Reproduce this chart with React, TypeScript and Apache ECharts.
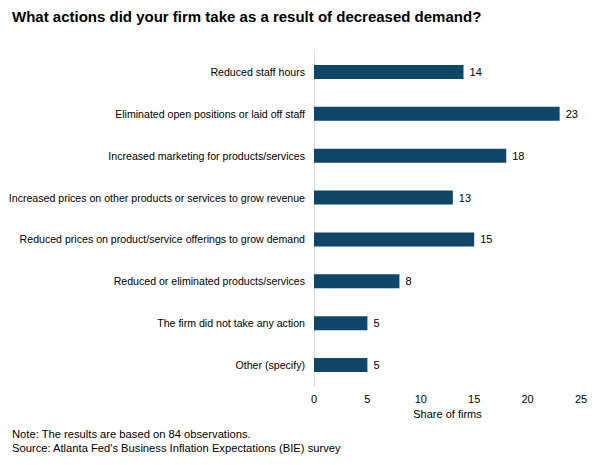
import React, { useEffect, useRef } from "react";
import * as echarts from "echarts";

const categories = [
  "Reduced staff hours",
  "Eliminated open positions or laid off staff",
  "Increased marketing for products/services",
  "Increased prices on other products or services to grow revenue",
  "Reduced prices on product/service offerings to grow demand",
  "Reduced or eliminated products/services",
  "The firm did not take any action",
  "Other (specify)",
];
const values = [14, 23, 18, 13, 15, 8, 5, 5];
const xTicks = { min: 0, max: 25, interval: 5 };

const FONT = "'Liberation Sans', Arial, sans-serif";

export default function App() {
  const ref = useRef<HTMLDivElement>(null);
  useEffect(() => {
    if (!ref.current) return;
    const chart = echarts.init(ref.current, null, { renderer: "svg" });
    chart.setOption({
      animation: false,
      backgroundColor: "#ffffff",
      textStyle: { fontFamily: FONT },
      title: {
        text: "What actions did your firm take as a result of decreased demand?",
        left: 4,
        top: 1,
        padding: 0,
        textStyle: { fontFamily: FONT, fontSize: 15, fontWeight: "bold", color: "#000" },
      },
      graphic: [
        {
          type: "text",
          left: 4,
          top: 419,
          style: {
            text: "Note: The results are based on 84 observations.\nSource: Atlanta Fed's Business Inflation Expectations (BIE) survey",
            font: `11.2px ${FONT}`,
            fill: "#000",
            lineHeight: 14,
          },
        },
      ],
      grid: {
        left: 306,
        right: 27,
        top: 43,
        bottom: 79,
        containLabel: false,
        outerBoundsMode: "none",
      },
      xAxis: {
        type: "value",
        min: xTicks.min,
        max: xTicks.max,
        interval: xTicks.interval,
        name: "Share of firms",
        nameLocation: "middle",
        nameGap: 20,
        nameTextStyle: { fontFamily: FONT, fontSize: 11, color: "#000" },
        axisLine: { show: false },
        axisTick: { show: false },
        splitLine: { show: false },
        axisLabel: { fontFamily: FONT, fontSize: 11, color: "#000", margin: 7 },
      },
      yAxis: {
        type: "category",
        data: categories,
        inverse: true,
        axisLine: { show: true, lineStyle: { color: "#d9d9d9", width: 1 } },
        axisTick: { show: false },
        axisLabel: { fontFamily: FONT, fontSize: 10.6, color: "#000", margin: 9 },
      },
      series: [
        {
          type: "bar",
          data: values,
          barWidth: 14,
          itemStyle: { color: "#0f4567" },
          label: {
            show: true,
            position: "right",
            distance: 6,
            fontFamily: FONT,
            fontSize: 11,
            color: "#000",
          },
        },
      ],
    });
    return () => chart.dispose();
  }, []);
  return <div ref={ref} style={{ width: 600, height: 457 }} />;
}
